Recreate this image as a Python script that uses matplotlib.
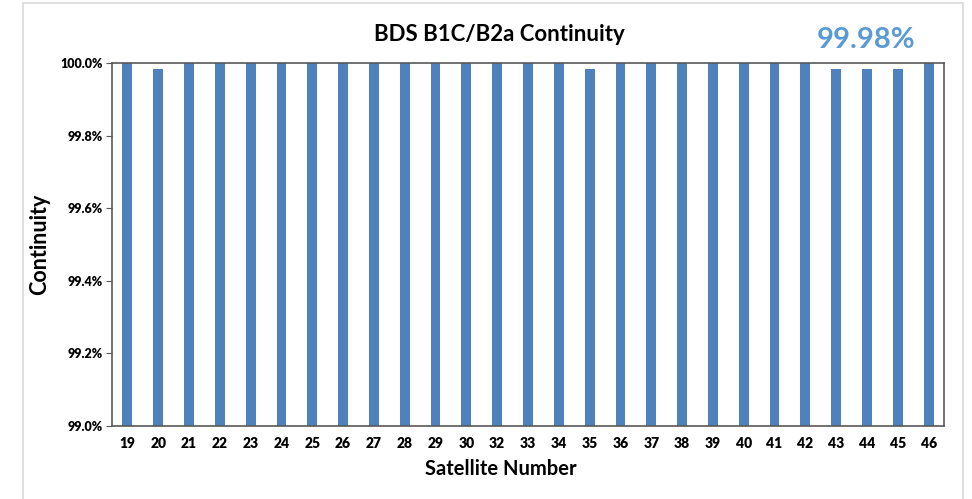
import matplotlib.pyplot as plt
from matplotlib.patches import Rectangle
from matplotlib.ticker import FuncFormatter

plt.rcParams['font.family'] = ['Lato', 'DejaVu Sans']

satellites = ['19', '20', '21', '22', '23', '24', '25', '26', '27', '28', '29', '30', '32',
              '33', '34', '35', '36', '37', '38', '39', '40', '41', '42', '43', '44', '45', '46']
continuity = [100.0, 99.984, 100.0, 100.0, 100.0, 100.0, 100.0, 100.0, 100.0, 100.0, 100.0, 100.0, 100.0,
              100.0, 100.0, 99.984, 100.0, 100.0, 100.0, 100.0, 100.0, 100.0, 100.0, 99.984, 99.984, 99.984, 100.0]
overall = '99.98%'

fig = plt.figure(figsize=(9.72, 4.99), dpi=100)
ax = fig.add_axes([0.1152, 0.1463, 0.856, 0.7275])

# light grey frame around the chart area
fig.patches.append(Rectangle((0.0237, -0.05), 0.967, 1.043, transform=fig.transFigure,
                             fill=False, edgecolor='#D9D9D9', linewidth=1.2))

x = range(len(satellites))
ax.bar(x, continuity, width=0.32, color='#4F81BD')

ax.set_ylim(99.0, 100.0)
ax.set_xlim(-0.5, len(satellites) - 0.5)
ax.set_yticks([99.0, 99.2, 99.4, 99.6, 99.8, 100.0])
ax.yaxis.set_major_formatter(FuncFormatter(lambda v, p: f'{v:.1f}%'))
ax.set_xticks(list(x))
ax.set_xticklabels(satellites)
ax.tick_params(axis='x', length=0, pad=8, labelsize=10)
ax.tick_params(axis='y', length=4, color='#595959', labelsize=9, pad=3)
for lbl in ax.get_xticklabels() + ax.get_yticklabels():
    lbl.set_fontweight('heavy')

for s in ax.spines.values():
    s.set_color('#595959')
    s.set_linewidth(1.2)

fig.text(0.514, 0.93, 'BDS B1C/B2a Continuity', ha='center', va='center',
         fontsize=16, fontweight='bold')
fig.text(0.891, 0.92, overall, ha='center', va='center',
         fontsize=21, fontweight='bold', color='#5B9BD5')
fig.text(0.515, 0.06, 'Satellite Number', ha='center', va='center',
         fontsize=14.5, fontweight='bold')
fig.text(0.041, 0.51, 'Continuity', ha='center', va='center', rotation=90,
         fontsize=15.5, fontweight='bold')

fig.savefig('out.png', dpi=100)
